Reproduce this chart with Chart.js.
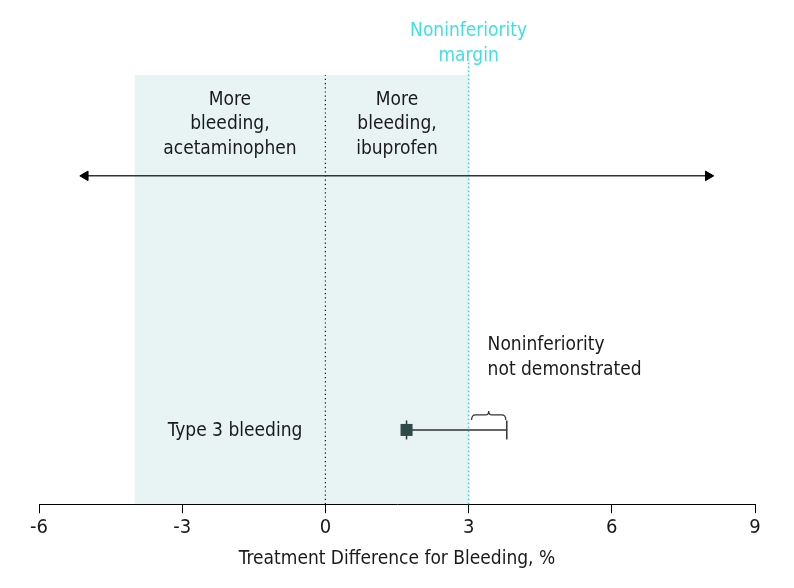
<!DOCTYPE html>
<html>
<head>
<meta charset="utf-8">
<script src="https://cdn.jsdelivr.net/npm/chart.js@4.4.1/dist/chart.umd.min.js"></script>
<style>
  html, body { margin: 0; padding: 0; background: #ffffff; }
  #wrap { width: 794px; height: 588px; position: relative; }
</style>
</head>
<body>
<div id="wrap"><canvas id="c" width="794" height="588"></canvas></div>
<script>
// ---- data ----
const categories = ['Type 3 bleeding'];
const pointEstimate = [1.7];
const ciLower = [1.7];
const ciUpper = [3.8];
const shadeRange = [-4, 3];
const zeroLine = [0];
const marginLine = [3];
const arrowRange = [-5.03, 8.02];
const xTicks = [-6, -3, 0, 3, 6, 9];
const regionLabels = [['More', 'bleeding,', 'acetaminophen'], ['More', 'bleeding,', 'ibuprofen']];
const marginLabel = ['Noninferiority', 'margin'];
const resultLabel = ['Noninferiority', 'not demonstrated'];
const axisTitle = 'Treatment Difference for Bleeding, %';

// ---- layout constants (not data) ----
const ROW_Y = 17.3;
const ARROW_Y = 76.5;
const FONT = '"Liberation Sans Narrow", "DejaVu Sans Condensed", "Roboto Condensed", "Open Sans", sans-serif';
const TEXT = '#1a1a1a';
const CYAN = '#3fdfe8';

const datasets = [
  { // shaded region
    type: 'line',
    data: [{x: shadeRange[0], y: 100}, {x: shadeRange[1], y: 100}],
    borderWidth: 0, borderColor: 'rgba(0,0,0,0)', backgroundColor: '#e8f3f4',
    fill: 'start', pointRadius: 0, order: 10
  },
  { // zero line
    type: 'line',
    data: [{x: zeroLine[0], y: 0}, {x: zeroLine[0], y: 100}],
    borderColor: '#111', borderWidth: 1.2, borderDash: [1.2, 3], pointRadius: 0, fill: false, order: 5
  },
  { // margin line
    type: 'line',
    data: [{x: marginLine[0], y: 0}, {x: marginLine[0], y: 103}],
    borderColor: '#36dbe6', borderWidth: 1.6, borderDash: [1.6, 2.4], pointRadius: 0, fill: false, order: 5
  },
  { // double arrow
    type: 'line',
    data: [{x: arrowRange[0], y: ARROW_Y}, {x: arrowRange[1], y: ARROW_Y}],
    borderColor: '#333', borderWidth: 1.5, pointStyle: 'triangle',
    pointRotation: [270, 90], pointRadius: 5.5, pointBackgroundColor: '#000', pointBorderColor: '#000',
    pointBorderWidth: 1, fill: false, order: 4
  },
  { // CI line with caps
    type: 'line',
    data: [{x: ciLower[0], y: ROW_Y}, {x: ciUpper[0], y: ROW_Y}],
    borderColor: '#333', borderWidth: 1.5, pointStyle: 'line', pointRotation: 90,
    pointRadius: 9.5, pointBorderColor: '#333', pointBorderWidth: 1.5, fill: false, order: 3
  },
  { // point estimate
    type: 'scatter',
    data: pointEstimate.map((v) => ({x: v, y: ROW_Y})),
    pointStyle: 'rect', pointRadius: 8.5, backgroundColor: '#2c4b4a', borderColor: '#2c4b4a',
    borderWidth: 0, order: 1
  }
];

const textPlugin = {
  id: 'texts',
  afterDatasetsDraw(chart) {
    const ctx = chart.ctx;
    const xs = chart.scales.x, ys = chart.scales.y;
    ctx.save();
    ctx.textBaseline = 'middle';
    ctx.font = '19px ' + FONT;
    // margin label
    ctx.fillStyle = CYAN;
    ctx.textAlign = 'center';
    const mx = xs.getPixelForValue(marginLine[0]);
    ctx.fillText(marginLabel[0], mx, 31);
    ctx.fillText(marginLabel[1], mx, 56);
    // region labels
    ctx.fillStyle = TEXT;
    const c1 = xs.getPixelForValue((shadeRange[0] + zeroLine[0]) / 2);
    const c2 = xs.getPixelForValue((zeroLine[0] + shadeRange[1]) / 2);
    regionLabels[0].forEach((t, i) => ctx.fillText(t, c1, 100 + i * 24.5));
    regionLabels[1].forEach((t, i) => ctx.fillText(t, c2, 100 + i * 24.5));
    // row label
    const ry = ys.getPixelForValue(ROW_Y);
    ctx.fillText(categories[0], 235, ry + 1);
    // result label
    ctx.textAlign = 'left';
    const rx = xs.getPixelForValue(marginLine[0]) + 19;
    ctx.fillText(resultLabel[0], rx, 345);
    ctx.fillText(resultLabel[1], rx, 370);
    // brace
    const bx1 = xs.getPixelForValue(marginLine[0]) + 3;
    const bx2 = xs.getPixelForValue(ciUpper[0]) - 1;
    const bm = (bx1 + bx2) / 2;
    const by = ry - 10;
    ctx.strokeStyle = '#333';
    ctx.lineWidth = 1.2;
    ctx.beginPath();
    ctx.moveTo(bx1, by);
    ctx.quadraticCurveTo(bx1, by - 5, bx1 + 4, by - 5);
    ctx.lineTo(bm - 3, by - 5);
    ctx.quadraticCurveTo(bm, by - 5, bm, by - 9);
    ctx.quadraticCurveTo(bm, by - 5, bm + 3, by - 5);
    ctx.lineTo(bx2 - 4, by - 5);
    ctx.quadraticCurveTo(bx2, by - 5, bx2, by);
    ctx.stroke();
    ctx.restore();
  }
};

new Chart(document.getElementById('c'), {
  data: { datasets },
  options: {
    responsive: false,
    animation: false,
    layout: { padding: { left: 39, right: 39, top: 75, bottom: 18 } },
    plugins: { legend: { display: false }, tooltip: { enabled: false } },
    scales: {
      x: {
        type: 'linear', min: -6, max: 9,
        afterBuildTicks: (s) => { s.ticks = xTicks.map((v) => ({value: v})); },
        grid: { drawOnChartArea: false, drawTicks: true, tickLength: 9, color: '#000', lineWidth: 1 },
        border: { display: true, color: '#000', width: 1 },
        ticks: { color: TEXT, font: { family: FONT, size: 20 }, padding: 3, maxRotation: 0, autoSkip: false },
        title: { display: true, text: axisTitle, color: TEXT, font: { family: FONT, size: 19 }, padding: { top: 4, bottom: 0 } }
      },
      y: { type: 'linear', min: 0, max: 100, display: false }
    },
    clip: false
  },
  plugins: [textPlugin]
});
</script>
</body>
</html>
